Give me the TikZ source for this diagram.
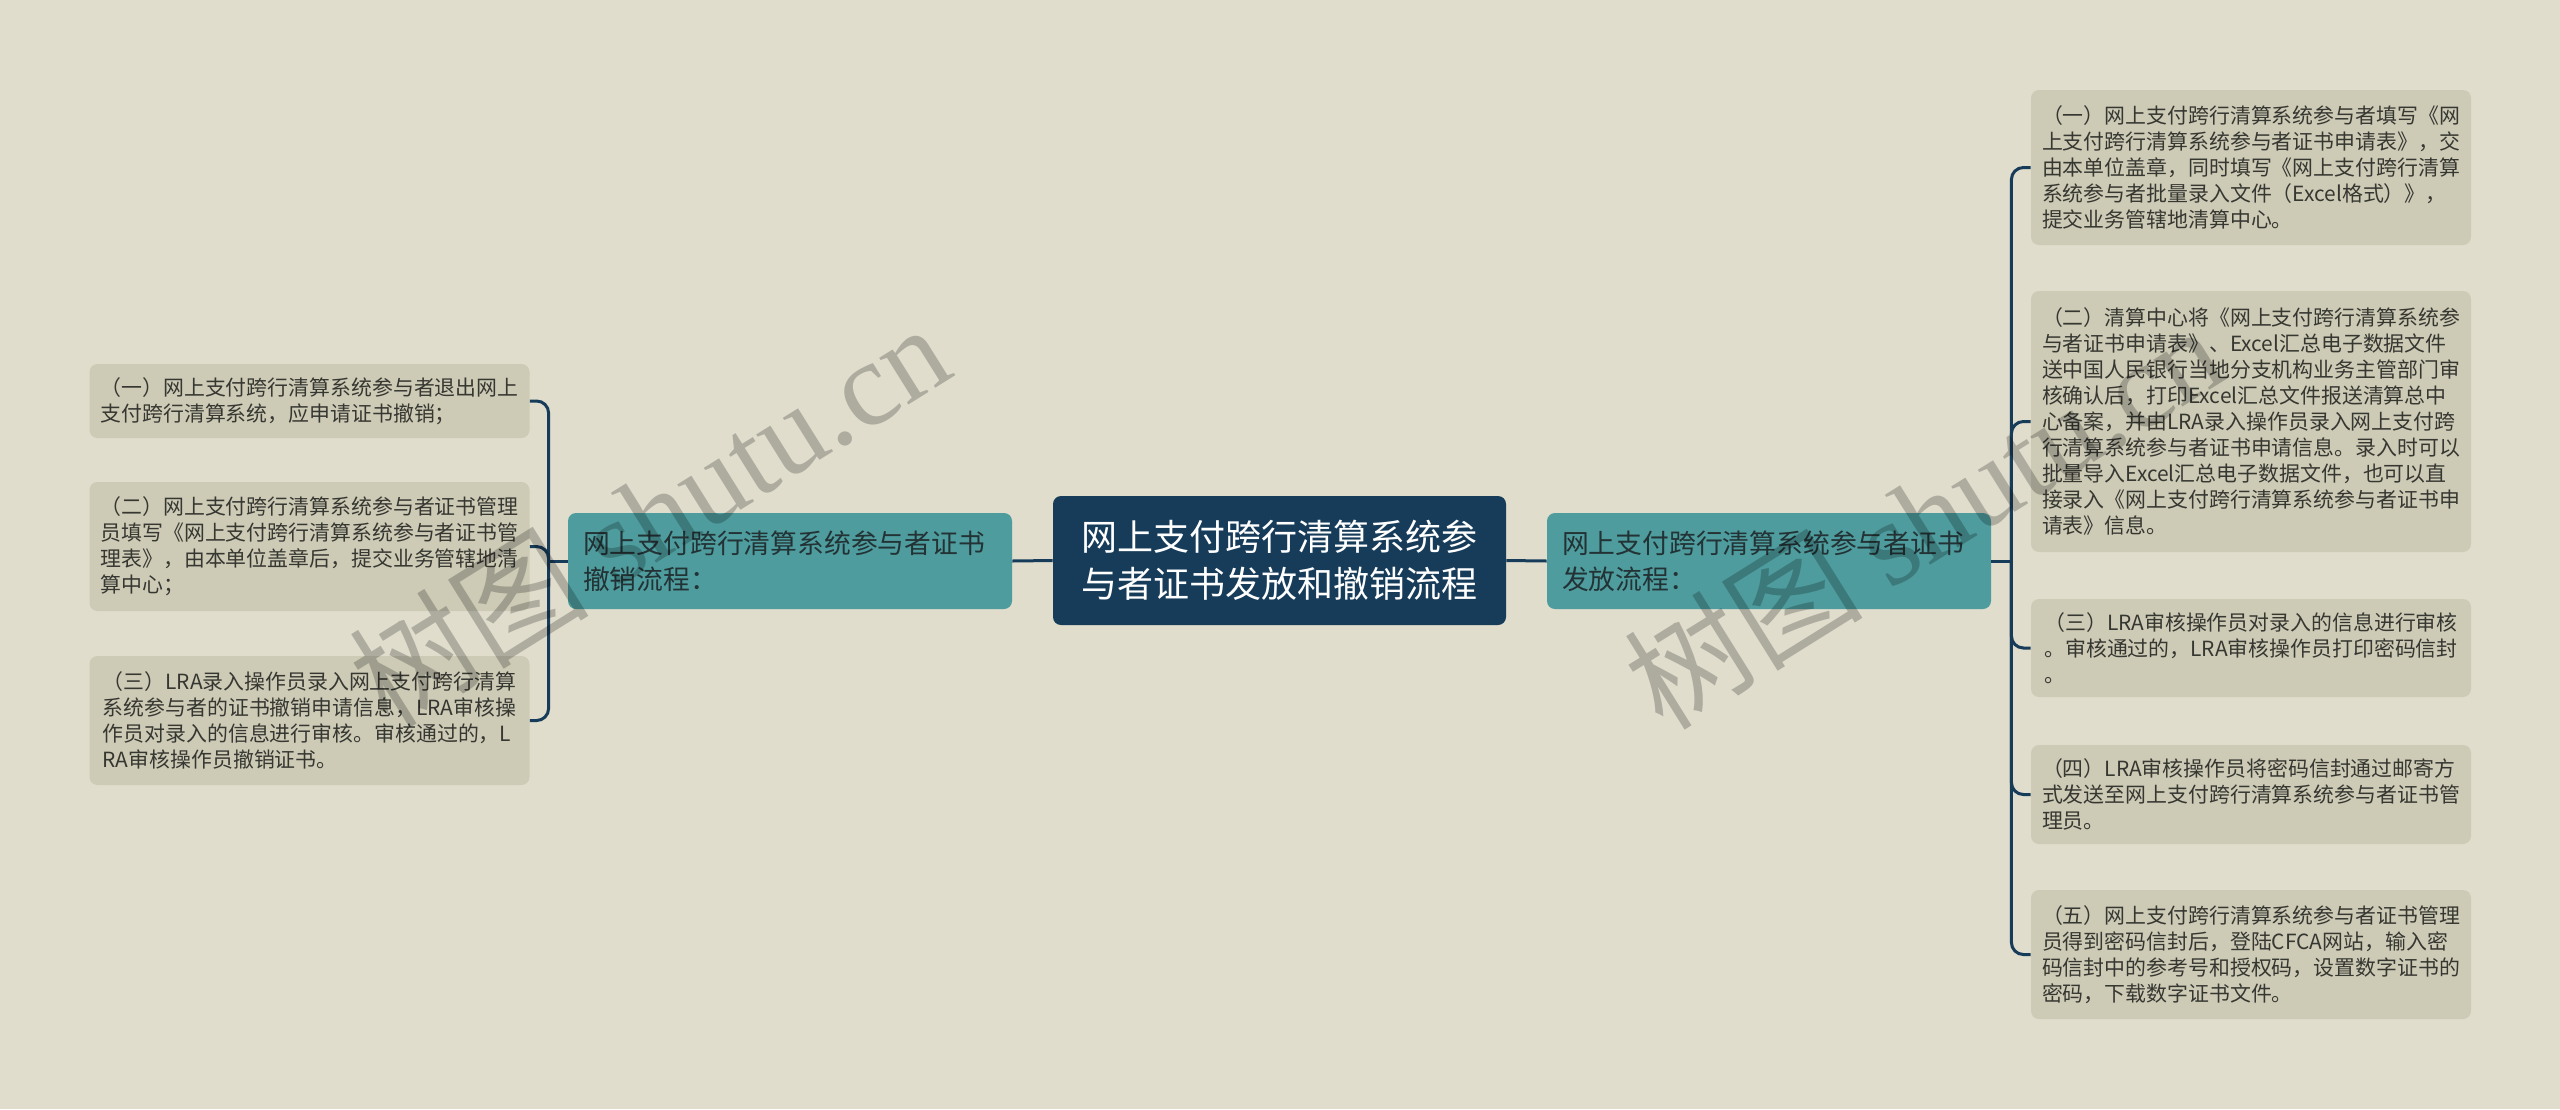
\documentclass[tikz,border=0pt]{standalone}
\usepackage{fontspec}
\setmainfont{Noto Sans CJK SC}
\newfontfamily\wmlatin{Liberation Serif}
\usepackage{xcolor}
\usetikzlibrary{positioning,calc}
\definecolor{bgpaper}{RGB}{224,221,205}
\definecolor{leaffill}{RGB}{205,203,182}
\definecolor{branchteal}{RGB}{78,156,158}
\definecolor{rootnavy}{RGB}{23,60,90}
\definecolor{leaftext}{RGB}{55,55,50}
\definecolor{branchtext}{RGB}{35,50,52}
\tikzset{
  topicbox/.style={fill=rootnavy, rounded corners=4pt, align=center, text=white,
    minimum width=226.5pt, minimum height=64.5pt, inner sep=0pt,
    font={\fontsize{18}{23.7}\selectfont}},
  branchbox/.style={fill=branchteal, rounded corners=4pt, align=left, text=branchtext,
    minimum width=222pt, minimum height=48pt, text width=207pt, inner xsep=7.5pt, inner ysep=0pt,
    font={\fontsize{13.4}{18}\selectfont}},
  leafbox/.style={fill=leaffill, rounded corners=4pt, align=left, text=leaftext,
    minimum width=220pt, inner sep=0pt,
    font={\fontsize{10.45}{13}\selectfont}},
  linkline/.style={draw=rootnavy, line width=1.5pt},
  watermark/.style={text=black, text opacity=0.22, rotate=32, inner sep=0pt,
    font={\fontsize{60}{60}\selectfont}},
}

\begin{document}
\begin{tikzpicture}[x=0.5pt, y=-0.5pt]
  % Paper and page size
  \fill[bgpaper] (0,0) rectangle (2560,1109);
  \useasboundingbox (0,0) rectangle (2560,1109);

  % Root topic
  \node[topicbox] (root) at (1279.5,560.5) {网上支付跨行清算系统参\\与者证书发放和撤销流程};

  % Branches
  \node[branchbox] (revoke) at (790,561) {网上支付跨行清算系统参与者证书\\撤销流程：};
  \node[branchbox] (issue) at (1769,561) {网上支付跨行清算系统参与者证书\\发放流程：};

  % Revocation steps
  \node[leafbox, minimum height=37pt] (rv1) at (309.5,401) {（一）网上支付跨行清算系统参与者退出网上\\支付跨行清算系统，应申请证书撤销；};
  \node[leafbox, minimum height=64.5pt] (rv2) at (309.5,546.5) {（二）网上支付跨行清算系统参与者证书管理\\员填写《网上支付跨行清算系统参与者证书管\\理表》，由本单位盖章后，提交业务管辖地清\\算中心；};
  \node[leafbox, minimum height=64.5pt] (rv3) at (309.5,720.5) {（三）LRA录入操作员录入网上支付跨行清算\\系统参与者的证书撤销申请信息，LRA审核操\\作员对录入的信息进行审核。审核通过的，L\\RA审核操作员撤销证书。};

  % Issuing steps
  \node[leafbox, minimum height=77.5pt] (is1) at (2251,167.5) {（一）网上支付跨行清算系统参与者填写《网\\上支付跨行清算系统参与者证书申请表》，交\\由本单位盖章，同时填写《网上支付跨行清算\\系统参与者批量录入文件（Excel格式）》，\\提交业务管辖地清算中心。};
  \node[leafbox, minimum height=130.5pt] (is2) at (2251,421.5) {（二）清算中心将《网上支付跨行清算系统参\\与者证书申请表》、Excel汇总电子数据文件\\送中国人民银行当地分支机构业务主管部门审\\核确认后，打印Excel汇总文件报送清算总中\\心备案，并由LRA录入操作员录入网上支付跨\\行清算系统参与者证书申请信息。录入时可以\\批量导入Excel汇总电子数据文件，也可以直\\接录入《网上支付跨行清算系统参与者证书申\\请表》信息。};
  \node[leafbox, minimum height=49pt] (is3) at (2251,648) {（三）LRA审核操作员对录入的信息进行审核\\。审核通过的，LRA审核操作员打印密码信封\\。};
  \node[leafbox, minimum height=49.5pt] (is4) at (2251,794.5) {（四）LRA审核操作员将密码信封通过邮寄方\\式发送至网上支付跨行清算系统参与者证书管\\理员。};
  \node[leafbox, minimum height=64.5pt] (is5) at (2251,954.5) {（五）网上支付跨行清算系统参与者证书管理\\员得到密码信封后，登陆CFCA网站，输入密\\码信封中的参考号和授权码，设置数字证书的\\密码，下载数字证书文件。};

  % Connectors
  \draw[linkline] (root.west) -- (revoke.east);
  \draw[linkline] (root.east) -- (issue.west);
  \draw[linkline] (revoke.west) -- ++(-19,0) coordinate (rvjoint);
  \draw[linkline] (issue.east) -- ++(20,0) coordinate (isjoint);
  \foreach \leaf in {rv1,rv2,rv3}
    \draw[linkline, rounded corners=6pt] (rvjoint) |- (\leaf.east);
  \foreach \leaf in {is1,is2,is3,is4,is5}
    \draw[linkline, rounded corners=6pt] (isjoint) |- (\leaf.west);

  % Watermarks
  \node[watermark] (wmleft) at (649,514) {树图 {\wmlatin shutu.cn}};
  \node[watermark] (wmright) at (1923,516) {树图 {\wmlatin shutu.cn}};
\end{tikzpicture}
\end{document}
